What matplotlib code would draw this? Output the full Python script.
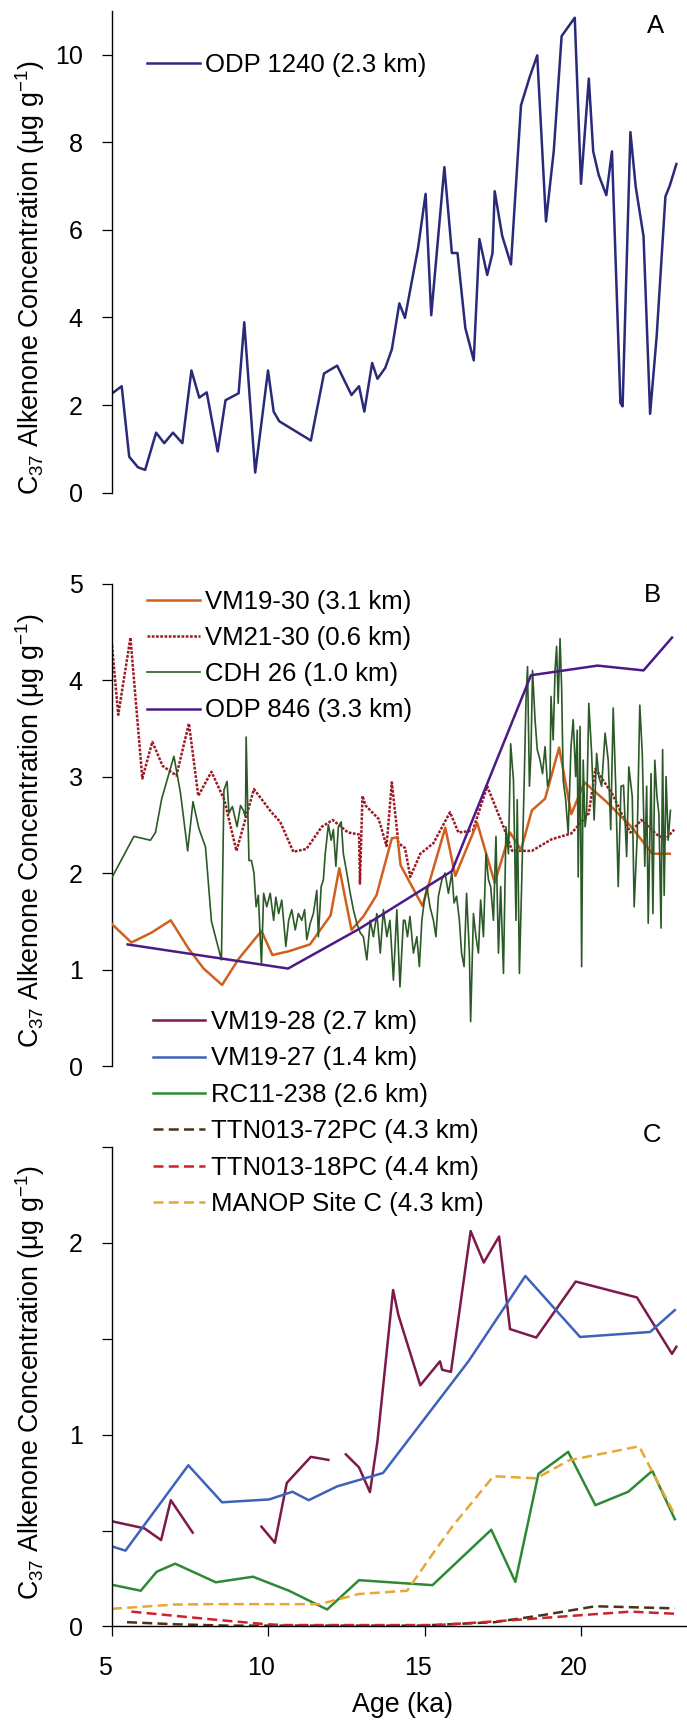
import numpy as np
import matplotlib
matplotlib.use('Agg')
import matplotlib.pyplot as plt
from matplotlib.transforms import ScaledTranslation

plt.rcParams['font.family'] = ['Liberation Sans', 'DejaVu Sans']
plt.rcParams['mathtext.fontset'] = 'custom'
plt.rcParams['mathtext.rm'] = 'Liberation Sans'
plt.rcParams['mathtext.it'] = 'Liberation Sans:italic'

# ---- Panel A: ODP 1240 ----
odp1240_age = [5.01, 5.31, 5.55, 5.83, 6.06, 6.41, 6.67, 6.95, 7.25, 7.54, 7.79, 8.03, 8.38, 8.63,
               9.05, 9.23, 9.58, 9.99, 10.17, 10.35, 11.36, 11.78, 12.20, 12.66, 12.90, 13.07,
               13.32, 13.49, 13.74, 13.95, 14.19, 14.37, 14.79, 15.03, 15.21, 15.63, 15.87, 16.05,
               16.30, 16.57, 16.75, 17.00, 17.17, 17.24, 17.48, 17.76, 18.08, 18.36, 18.60, 18.88,
               19.13, 19.38, 19.80, 20.00, 20.25, 20.39, 20.57, 20.81, 20.99, 21.26, 21.33, 21.58,
               21.75, 22.00, 22.21, 22.42, 22.70, 22.84, 23.05]
odp1240_c37 = [2.27, 2.43, 0.82, 0.58, 0.52, 1.37, 1.13, 1.37, 1.13, 2.79, 2.17, 2.29, 0.94, 2.11,
               2.27, 3.89, 0.46, 2.79, 1.85, 1.63, 1.19, 2.72, 2.90, 2.23, 2.43, 1.85,
               2.96, 2.60, 2.85, 3.27, 4.32, 3.99, 5.59, 6.82, 4.05, 7.43, 5.47, 5.47,
               3.76, 3.02, 5.79, 4.97, 5.47, 6.88, 5.86, 5.21, 8.84, 9.49, 9.98, 6.19,
               7.81, 10.42, 10.84, 7.05, 9.45, 7.79, 7.24, 6.79, 7.79, 2.05, 1.97, 8.23,
               6.98, 5.85, 1.80, 3.57, 6.76, 7.01, 7.50]

# ---- Panel B ----
vm1930_age = [5.0, 5.62, 6.25, 6.88, 7.44, 7.93, 8.52, 9.05, 9.78, 10.13, 10.66, 11.33, 11.99, 12.27,
              12.66, 13.04, 13.46, 13.95, 14.13, 14.23, 14.93, 15.66, 15.98, 16.68, 17.24, 17.73,
              18.08, 18.43, 18.85, 19.30, 19.69, 20.11, 20.39, 20.81, 21.58, 22.28, 22.84]
vm1930_c37 = [1.47, 1.28, 1.38, 1.51, 1.22, 1.01, 0.84, 1.11, 1.40, 1.15, 1.19, 1.26, 1.56, 2.05,
              1.41, 1.55, 1.77, 2.36, 2.37, 2.08, 1.66, 2.47, 1.97, 2.52, 1.90, 2.42,
              2.24, 2.65, 2.77, 3.30, 2.61, 2.94, 2.86, 2.74, 2.49, 2.20, 2.20]

vm2130_age = [5.0, 5.20, 5.59, 5.97, 6.29, 6.62, 7.06, 7.46, 7.76, 8.18, 8.59, 8.98, 9.54, 10.10,
              10.38, 10.80, 11.22, 11.71, 12.06, 12.55, 12.90, 12.93, 13.01, 13.11, 13.53, 13.78,
              13.95, 14.16, 14.37, 14.54, 14.86, 15.28, 15.81, 16.08, 16.54, 17.00, 17.52, 17.80,
              18.43, 19.06, 19.69, 20.25, 20.46, 21.02, 21.58, 21.93, 22.42, 22.70, 22.98]
vm2130_c37 = [4.36, 3.64, 4.44, 2.98, 3.36, 3.11, 3.01, 3.55, 2.80, 3.05, 2.76, 2.23, 2.87, 2.63,
              2.53, 2.22, 2.25, 2.48, 2.55, 2.42, 2.40, 1.89, 2.80, 2.70, 2.56, 2.28,
              2.94, 2.31, 2.26, 1.96, 2.20, 2.31, 2.63, 2.42, 2.44, 2.90, 2.48, 2.23,
              2.23, 2.35, 2.41, 2.62, 3.08, 2.81, 2.42, 2.55, 2.40, 2.35, 2.45]

cdh26_age = [5.01, 5.70, 6.23, 6.39, 6.59, 6.98, 7.19, 7.42, 7.59, 7.78, 7.99, 8.18, 8.50, 8.58,
             8.68, 8.74, 8.85, 9.00, 9.11, 9.20, 9.27, 9.29, 9.38, 9.46, 9.54, 9.61, 9.68, 9.78,
             9.85, 9.95, 10.06, 10.17, 10.24, 10.33, 10.43, 10.56, 10.65, 10.75, 10.86, 10.96,
             11.07, 11.16, 11.23, 11.34, 11.44, 11.55, 11.60, 11.69, 11.76, 11.82, 11.92, 12.01,
             12.08, 12.16, 12.24, 12.33, 12.40, 12.51, 12.62, 12.72, 12.83, 12.94, 13.04, 13.15,
             13.26, 13.36, 13.47, 13.58, 13.68, 13.79, 13.89, 14.00, 14.11, 14.21, 14.32,
             14.37, 14.45, 14.53, 14.64, 14.75, 14.83, 14.91, 14.98, 15.07, 15.17, 15.28, 15.36,
             15.44, 15.55, 15.65, 15.76, 15.87, 15.94, 16.02, 16.11, 16.18, 16.26, 16.34, 16.43,
             16.47, 16.56, 16.64, 16.72, 16.79, 16.88, 16.96, 17.04, 17.11, 17.20, 17.28, 17.36,
             17.43, 17.52, 17.60, 17.68, 17.75, 17.84, 17.92, 17.96, 18.03, 18.10, 18.18, 18.24,
             18.29, 18.35, 18.40, 18.45, 18.53, 18.60, 18.69, 18.77, 18.85, 18.93, 19.01,
             19.04, 19.11, 19.17, 19.22, 19.27, 19.33, 19.38, 19.43, 19.51, 19.59, 19.68, 19.75,
             19.83, 19.88, 19.91, 19.97, 20.02, 20.07, 20.13, 20.18, 20.25, 20.34, 20.42, 20.50,
             20.57, 20.66, 20.77, 20.87, 20.95, 21.03, 21.11, 21.19, 21.28, 21.36, 21.46, 21.53,
             21.64, 21.70, 21.80, 21.88, 21.96, 22.04, 22.10, 22.15, 22.24, 22.30, 22.36, 22.43,
             22.49, 22.56, 22.61, 22.66, 22.72, 22.79, 22.86]
cdh26_c37 = [1.96, 2.38, 2.34, 2.42, 2.77, 3.21, 2.83, 2.23, 2.74, 2.46, 2.27, 1.50, 1.10, 2.86,
             2.95, 2.62, 2.69, 2.48, 2.70, 2.65, 2.58, 3.41, 2.13, 2.13, 2.00, 1.65, 1.77, 1.05,
             1.79, 1.65, 1.79, 1.51, 1.75, 1.58, 1.72, 1.24, 1.51, 1.62, 1.41, 1.58,
             1.51, 1.62, 1.31, 1.48, 1.58, 1.82, 1.34, 1.86, 1.93, 2.20, 2.50, 2.34,
             2.45, 2.07, 2.48, 2.53, 2.20, 2.00, 1.79, 1.62, 1.48, 1.38, 1.34, 1.10,
             1.51, 1.34, 1.58, 1.17, 1.62, 1.34, 1.51, 0.89, 1.62, 0.82, 1.51,
             1.51, 1.34, 1.55, 1.17, 1.34, 1.03, 1.51, 1.69, 1.86, 1.65, 1.51, 1.34,
             1.76, 1.93, 2.00, 1.79, 2.00, 1.69, 1.76, 1.51, 1.17, 1.03, 1.79, 1.17,
             0.46, 1.58, 1.34, 1.17, 1.72, 1.34, 2.20, 1.93, 1.86, 1.51, 2.38, 1.17,
             1.86, 0.96, 2.48, 2.20, 3.34, 2.96, 1.51, 2.76, 0.96, 1.86, 2.90, 3.79,
             4.14, 2.90, 3.24, 4.10, 3.59, 3.28, 3.17, 3.03, 3.31, 2.90, 3.00,
             3.83, 3.38, 4.10, 4.35, 3.76, 4.43, 3.93, 2.96, 2.76, 2.41, 3.31, 3.59,
             3.00, 3.48, 1.96, 3.52, 1.03, 3.17, 2.48, 2.62, 3.76, 3.24, 2.55, 3.24,
             3.00, 2.90, 3.45, 3.17, 2.45, 3.71, 2.90, 1.86, 2.90, 2.91, 2.17, 3.10,
             2.79, 1.65, 2.41, 3.74, 3.24, 2.07, 2.90, 1.48, 3.03, 1.58, 3.17, 2.79,
             2.62, 1.43, 3.28, 1.77, 3.00, 2.34, 2.65]

odp846_age = [5.50, 10.63, 12.90, 15.87, 18.40, 20.53, 22.00, 22.91]
odp846_c37 = [1.26, 1.01, 1.42, 2.02, 4.05, 4.15, 4.10, 4.44]

# ---- Panel C ----
nan = np.nan
vm1928_age = [5.0, 6.04, 6.57, 6.88, 7.58, 8.5, 9.78, 10.21, 10.59, 11.36, 11.92, 12.2,
              12.48, 12.90, 13.25, 13.49, 13.99, 14.16, 14.86, 15.49, 15.56, 15.84, 16.47,
              16.89, 17.38, 17.73, 18.57, 19.83, 21.79, 22.91, 23.05]
vm1928_c37 = [0.548, 0.511, 0.450, 0.658, 0.489, nan, 0.520, 0.436, 0.748, 0.884, 0.868, nan,
              0.897, 0.829, 0.700, 0.965, 1.754, 1.623, 1.257, 1.382, 1.338, 1.327, 2.061,
              1.897, 2.033, 1.550, 1.506, 1.798, 1.715, 1.421, 1.458]

vm1927_age = [5.0, 5.43, 7.44, 8.52, 10.03, 10.77, 11.29, 12.20, 13.67, 16.40, 18.22, 19.97, 22.21, 23.0]
vm1927_c37 = [0.417, 0.395, 0.840, 0.647, 0.662, 0.702, 0.658, 0.730, 0.800, 1.382, 1.827, 1.509, 1.535, 1.649]

rc11_age = [5.06, 5.92, 6.43, 7.02, 8.32, 9.51, 10.66, 11.88, 12.90, 15.25, 17.13, 17.90,
            18.64, 19.59, 20.46, 21.51, 22.28, 23.0]
rc11_c37 = [0.215, 0.186, 0.285, 0.327, 0.230, 0.259, 0.186, 0.088, 0.241, 0.215, 0.504, 0.232,
            0.796, 0.910, 0.632, 0.702, 0.811, 0.559]

ttn72_age = [5.48, 7.02, 8.70, 9.96, 14.86, 17.24, 18.78, 20.46, 23.0]
ttn72_c37 = [0.022, 0.011, 0.004, 0.004, 0.004, 0.022, 0.059, 0.105, 0.094]

ttn18_age = [5.62, 7.02, 8.42, 9.96, 10.52, 15.42, 17.24, 18.78, 20.04, 21.58, 23.0]
ttn18_c37 = [0.077, 0.055, 0.033, 0.011, 0.007, 0.007, 0.026, 0.044, 0.059, 0.077, 0.066]

manop_age = [5.0, 7.02, 8.14, 11.64, 12.90, 14.44, 15.28, 15.91, 17.20, 18.57, 19.62, 21.86, 23.0]
manop_c37 = [0.092, 0.114, 0.116, 0.116, 0.169, 0.186, 0.384, 0.526, 0.783, 0.772, 0.866, 0.939, 0.581]

W, H = 687, 1720
fig = plt.figure(figsize=(W / 100, H / 100), dpi=100)

def axes_box(top, bottom, left=112):
    return [left / W, 1 - bottom / H, 1 - left / W, (bottom - top) / H]

FS_TICK = 18
FS_LEG = 18.5
FS_LAB = 19.3

axA = fig.add_axes(axes_box(10.7, 492.7))
axB = fig.add_axes(axes_box(583.6, 1066))
axC = fig.add_axes(axes_box(1146.9, 1626.4))

for ax in (axA, axB, axC):
    ax.set_xlim(5, 23.39)
    for s in ('top', 'right'):
        ax.spines[s].set_visible(False)
    ax.spines['left'].set_linewidth(1.0)
    ax.tick_params(axis='y', direction='out', length=7.2, width=0.9, pad=14, labelsize=FS_TICK)
for ax in (axA, axB):
    ax.spines['bottom'].set_visible(False)
    ax.set_xticks([])

lw = 1.8
axA.plot(odp1240_age, odp1240_c37, color='#2A2A7A', lw=lw, label='ODP 1240 (2.3 km)')
axA.set_ylim(0, 11)
axA.set_yticks([0, 2, 4, 6, 8, 10])

axB.plot(vm1930_age, vm1930_c37, color='#D0601E', lw=lw, label='VM19-30 (3.1 km)', zorder=3)
axB.plot(vm2130_age, vm2130_c37, color='#9E1A22', lw=1.8, ls=(0, (1.1, 0.6)),
         label='VM21-30 (0.6 km)', zorder=2)
axB.plot(cdh26_age, cdh26_c37, color='#2B5A27', lw=1.2, label='CDH 26 (1.0 km)', zorder=4)
axB.plot(odp846_age, odp846_c37, color='#4B1A87', lw=lw, label='ODP 846 (3.3 km)', zorder=5)
axB.set_ylim(0, 5)
axB.set_yticks([0, 1, 2, 3, 4, 5])

axC.plot(vm1928_age, vm1928_c37, color='#7B1A4B', lw=lw, label='VM19-28 (2.7 km)')
axC.plot(vm1927_age, vm1927_c37, color='#3D62B9', lw=lw, label='VM19-27 (1.4 km)')
axC.plot(rc11_age, rc11_c37, color='#2D8A34', lw=lw, label='RC11-238 (2.6 km)')
axC.plot(ttn72_age, ttn72_c37, color='#4A3219', lw=lw, ls=(0, (4.0, 2.1)), label='TTN013-72PC (4.3 km)')
axC.plot(ttn18_age, ttn18_c37, color='#CC2228', lw=lw, ls=(0, (4.0, 2.1)), label='TTN013-18PC (4.4 km)')
axC.plot(manop_age, manop_c37, color='#E8A733', lw=lw, ls=(0, (4.0, 2.1)), label='MANOP Site C (4.3 km)')
axC.set_ylim(0, 2.5)
axC.set_yticks([0, 0.5, 1, 1.5, 2, 2.5])
axC.set_yticklabels(['0', '', '1', '', '2', ''])
axC.spines['bottom'].set_linewidth(1.0)
axC.set_xticks([5, 10, 15, 20])
axC.tick_params(axis='x', direction='out', length=7.2, width=0.9, pad=14, labelsize=FS_TICK)
for lab in axC.get_xticklabels():
    lab.set_transform(lab.get_transform() + ScaledTranslation(-0.07, 0, fig.dpi_scale_trans))

leg_kw = dict(frameon=False, fontsize=FS_LEG, handlelength=2.05, handletextpad=0.22,
              labelspacing=0.48, borderpad=0, borderaxespad=0, loc='center left',
              bbox_transform=fig.transFigure)
# anchors = vertical centre of each legend block (px from top)
axA.legend(bbox_to_anchor=(147 / W, 1 - 65 / H), **leg_kw)
axB.legend(bbox_to_anchor=(147 / W, 1 - 656 / H), **leg_kw)
legC = axC.legend(bbox_to_anchor=(152.5 / W, 1 - 1113 / H), **leg_kw)
legC.set_zorder(10)

for txt, x, y in [('A', 656, 26), ('B', 652, 595), ('C', 652, 1135)]:
    fig.text(x / W, 1 - y / H, txt, fontsize=FS_LEG, ha='center', va='center')

ylab = 'C$_{37}$ Alkenone Concentration (\u03bcg g$^{\\mathregular{-1}}$)'
for yc in (278, 831, 1383):
    fig.text(30 / W, 1 - yc / H, ylab, fontsize=FS_LAB, rotation=90, ha='center', va='center')

fig.text(403 / W, 1 - 1705 / H, 'Age (ka)', fontsize=FS_LAB, ha='center', va='center')

fig.savefig('out.png', dpi=100)
